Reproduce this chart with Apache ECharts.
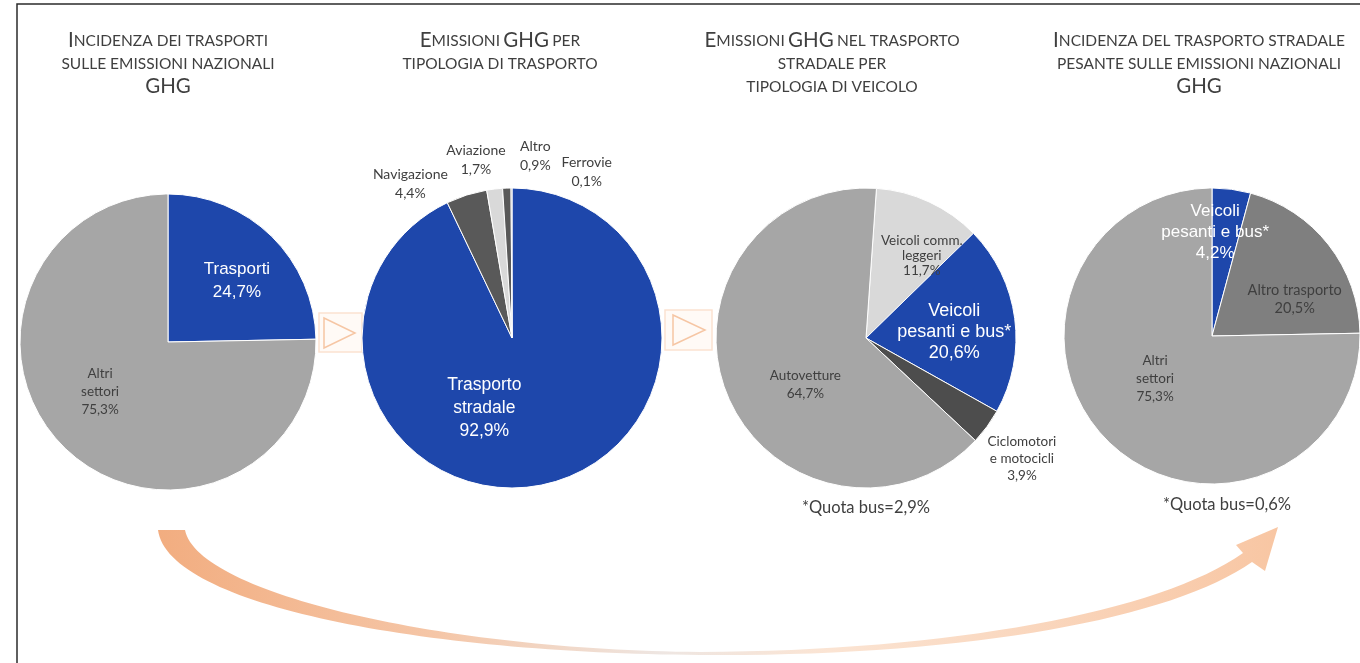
<!DOCTYPE html>
<html>
<head>
<meta charset="utf-8">
<script src="https://cdn.jsdelivr.net/npm/echarts@6/dist/echarts.min.js"></script>
<style>
html,body{margin:0;padding:0;background:#fff;}
#chart{width:1360px;height:663px;}
</style>
</head>
<body>
<div id="chart"></div>
<script>
// ---------------- DATA ----------------
const p1Names  = ['Trasporti', 'Altri\nsettori'];
const p1Values = [24.7, 75.3];

const p2Names  = ['Trasporto\nstradale', 'Navigazione', 'Aviazione', 'Altro', 'Ferrovie'];
const p2Values = [92.9, 4.4, 1.7, 0.9, 0.1];

const p3Names  = ['Veicoli comm.\nleggeri', 'Veicoli\npesanti e bus*', 'Ciclomotori\ne motocicli', 'Autovetture'];
const p3Values = [11.7, 20.6, 3.9, 64.7];

const p4Names  = ['Veicoli\npesanti e bus*', 'Altro trasporto', 'Altri\nsettori'];
const p4Values = [4.2, 20.5, 75.3];

const titleTexts = [
  '{b|I}{s|NCIDENZA DEI TRASPORTI}\n{s|SULLE EMISSIONI NAZIONALI}\n{b|GHG}',
  '{b|E}{s|MISSIONI} {b|GHG} {s|PER}\n{s|TIPOLOGIA DI TRASPORTO}',
  '{b|E}{s|MISSIONI} {b|GHG} {s|NEL TRASPORTO}\n{s|STRADALE PER}\n{s|TIPOLOGIA DI VEICOLO}',
  '{b|I}{s|NCIDENZA DEL TRASPORTO STRADALE}\n{s|PESANTE SULLE EMISSIONI NAZIONALI}\n{b|GHG}'
];
const noteTexts = ['*Quota bus=2,9%', '*Quota bus=0,6%'];

// ---------------- STYLE ----------------
const BLUE = '#1e47ab';
const TXT = '#3f3f3f';
const p1Colors = [BLUE, '#a6a6a6'];
const p2Colors = [BLUE, '#595959', '#d9d9d9', '#595959', '#7f7f7f'];
const p3Colors = ['#d9d9d9', BLUE, '#4d4d4d', '#a6a6a6'];
const p4Colors = [BLUE, '#7f7f7f', '#a6a6a6'];

const W = (fs, lh) => ({color:'#fff', fontFamily:'Liberation Sans, Arial, sans-serif', fontSize:fs, lineHeight:lh});
const D = (fs, lh) => ({color:TXT, fontFamily:'Lato, sans-serif', fontSize:fs, lineHeight:lh});

const p1Label = [W(17,23), D(13.5,18)];
const p2Label = [W(17.5,23), D(14,19), D(14,19), D(14,19), D(14,19)];
const p3Label = [D(13.5,15), W(18,21), D(13.5,17), D(13.5,18)];
const p4Label = [W(17,21), D(14.5,18), D(13.5,18)];

const p1Offset = [[15,-6],[-14,-5]];
const p2Offset = [[-45,-6],[-78,-80],[-27,-101],[26,-104],[75,-88]];
const p3Offset = [[23,-12],[11,4],[93,75],[12,18]];
const p4Offset = [[-7,-27],[22,11],[-3,-12]];

const fmt = v => v.toFixed(1).replace('.', ',') + '%';

function makePie(names, values, colors, labels, offsets, center, radius, startAngle) {
  return {
    type: 'pie',
    center: center,
    radius: radius,
    startAngle: startAngle,
    clockwise: true,
    avoidLabelOverlap: false,
    silent: true,
    labelLine: {show: false},
    itemStyle: {borderColor: '#fff', borderWidth: 1},
    label: {
      show: true,
      position: 'inside',
      formatter: p => p.name + '\n' + fmt(p.value)
    },
    labelLayout: p => ({dx: offsets[p.dataIndex][0], dy: offsets[p.dataIndex][1]}),
    data: names.map((n, i) => ({
      name: n,
      value: values[i],
      itemStyle: {color: colors[i]},
      label: Object.assign({align: 'center'}, labels[i])
    }))
  };
}

// custom crescent arrow shape
const Crescent = echarts.graphic.extendShape({
  shape: {},
  buildPath: function (ctx) {
    ctx.moveTo(158, 530);
    ctx.bezierCurveTo(168, 606, 425, 653, 700, 655);
    ctx.bezierCurveTo(960, 657, 1170, 620, 1252, 562);
    ctx.lineTo(1265, 571);
    ctx.lineTo(1278, 527);
    ctx.lineTo(1236, 545);
    ctx.lineTo(1243, 553);
    ctx.bezierCurveTo(1160, 612, 950, 651, 700, 652);
    ctx.bezierCurveTo(445, 650, 198, 594, 185, 530);
    ctx.closePath();
  }
});
echarts.graphic.registerShape('crescentArrow', Crescent);

const titleRich = {
  b: {fontFamily:'Lato, sans-serif', fontSize:20.5, lineHeight:23, fill:TXT},
  s: {fontFamily:'Lato, sans-serif', fontSize:15.5, lineHeight:23, fill:TXT}
};
const titleX = [168, 500, 832, 1199];

const graphics = [];
// frame
graphics.push({type:'rect', shape:{x:17, y:4, width:1400, height:700}, style:{fill:'none', stroke:'#2b2b2b', lineWidth:1.5}, silent:true});
// titles
titleTexts.forEach((t, i) => graphics.push({
  type:'text', x:titleX[i], y:29, silent:true,
  style:{text:t, align:'center', verticalAlign:'top', rich:titleRich, fill:TXT}
}));
// notes
graphics.push({type:'text', x:866, y:508, silent:true, style:{text:noteTexts[0], align:'center', verticalAlign:'middle', fontFamily:'Lato, sans-serif', fontSize:16.5, fill:TXT}});
graphics.push({type:'text', x:1227, y:505, silent:true, style:{text:noteTexts[1], align:'center', verticalAlign:'middle', fontFamily:'Lato, sans-serif', fontSize:16.5, fill:TXT}});
// chevron boxes
[[319,313,43,39,[[324,318],[355,333],[324,348]]],[665,310,47,40,[[673,315],[705,330],[673,345]]]].forEach(b => {
  graphics.push({type:'rect', shape:{x:b[0], y:b[1], width:b[2], height:b[3]}, style:{fill:'#fffaf6', stroke:'#fbe2d1', lineWidth:1.5}, silent:true});
  graphics.push({type:'polygon', shape:{points:b[4]}, style:{fill:'none', stroke:'#f6c6a4', lineWidth:1.5}, silent:true});
});
// curved arrow
graphics.push({
  type:'crescentArrow', silent:true,
  shape:{},
  style:{fill:new echarts.graphic.LinearGradient(0,0,1,0,[
    {offset:0, color:'#f2ad80'},
    {offset:0.25, color:'#f5c6a7'},
    {offset:0.45, color:'#eee6e2'},
    {offset:0.6, color:'#fbe4d3'},
    {offset:1, color:'#f8c6a3'}
  ])}
});

const option = {
  animation: false,
  backgroundColor: '#fff',
  graphic: graphics,
  series: [
    makePie(p1Names, p1Values, p1Colors, p1Label, p1Offset, [168, 342], 148, 90),
    makePie(p2Names, p2Values, p2Colors, p2Label, p2Offset, [512, 338], 150, 90),
    makePie(p3Names, p3Values, p3Colors, p3Label, p3Offset, [866, 338], 150, 86),
    makePie(p4Names, p4Values, p4Colors, p4Label, p4Offset, [1212, 336], 148, 90)
  ]
};

const chart = echarts.init(document.getElementById('chart'), null, {renderer:'canvas'});
chart.setOption(option);
</script>
</body>
</html>
